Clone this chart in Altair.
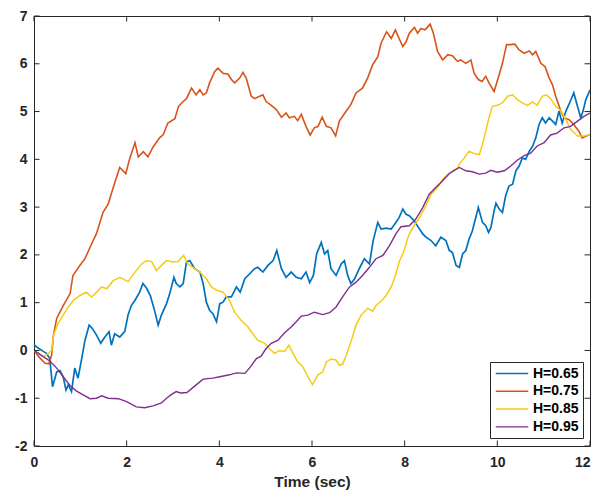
import altair as alt
import pandas as pd

SERIES = ["H=0.65", "H=0.75", "H=0.85", "H=0.95"]
COLORS = ["#0072BD", "#D95319", "#F5CC14", "#7E2F8E"]
X_TICKS = [0, 2, 4, 6, 8, 10, 12]
Y_TICKS = [-2, -1, 0, 1, 2, 3, 4, 5, 6, 7]

H065 = [(0, 0.12), (0.09, 0.05), (0.2, -0.02), (0.27, -0.06), (0.34, -0.17), (0.40, -0.76), (0.49, -0.45),
        (0.56, -0.42), (0.63, -0.55), (0.69, -0.83), (0.74, -0.72), (0.81, -0.86), (0.88, -0.37), (0.95, -0.58),
        (1.03, -0.17), (1.10, 0.21), (1.19, 0.53), (1.26, 0.46), (1.35, 0.32), (1.44, 0.15), (1.53, 0.28),
        (1.62, 0.39), (1.67, 0.11), (1.74, 0.35), (1.85, 0.28), (1.96, 0.40), (2.03, 0.74), (2.10, 0.94),
        (2.18, 1.05), (2.28, 1.22), (2.35, 1.40), (2.43, 1.30), (2.51, 1.15), (2.59, 0.88), (2.68, 0.53),
        (2.75, 0.74), (2.86, 0.98), (2.93, 1.19), (3.02, 1.53), (3.07, 1.40), (3.15, 1.33), (3.22, 1.40),
        (3.29, 1.85), (3.36, 1.88), (3.47, 1.71), (3.58, 1.64), (3.65, 1.40), (3.72, 1.01), (3.79, 0.84),
        (3.86, 0.77), (3.94, 0.60), (4.01, 0.98), (4.08, 1.01), (4.15, 1.12), (4.26, 1.12), (4.37, 1.33),
        (4.45, 1.22), (4.55, 1.50), (4.65, 1.60), (4.76, 1.71), (4.83, 1.74), (4.94, 1.64), (5.05, 1.78),
        (5.16, 1.88), (5.24, 2.09), (5.34, 1.71), (5.44, 1.53), (5.55, 1.64), (5.66, 1.53), (5.77, 1.50),
        (5.87, 1.64), (5.95, 1.42), (6.03, 1.57), (6.10, 2.02), (6.20, 2.26), (6.27, 2.02), (6.34, 2.09),
        (6.41, 1.71), (6.52, 1.57), (6.63, 1.81), (6.70, 1.88), (6.77, 1.57), (6.84, 1.40), (6.92, 1.50),
        (7.02, 1.71), (7.13, 1.92), (7.24, 1.81), (7.32, 2.30), (7.42, 2.68), (7.49, 2.54), (7.60, 2.56),
        (7.71, 2.54), (7.81, 2.68), (7.88, 2.78), (7.96, 2.96), (8.03, 2.85), (8.10, 2.82), (8.21, 2.71),
        (8.32, 2.54), (8.39, 2.44), (8.46, 2.37), (8.57, 2.30), (8.67, 2.19), (8.78, 2.37), (8.89, 2.30),
        (8.96, 2.10), (9.03, 2.05), (9.11, 1.78), (9.18, 1.74), (9.25, 2.02), (9.32, 2.09), (9.39, 2.33),
        (9.46, 2.50), (9.50, 2.65), (9.59, 2.99), (9.68, 2.68), (9.75, 2.61), (9.81, 2.47), (9.86, 2.57),
        (9.93, 2.92), (9.97, 3.08), (10.04, 2.96), (10.11, 2.89), (10.18, 3.24), (10.25, 3.44), (10.33, 3.48),
        (10.40, 3.76), (10.47, 3.86), (10.54, 4.03), (10.61, 4.00), (10.69, 4.17), (10.76, 4.27), (10.83, 4.45),
        (10.90, 4.73), (10.97, 4.87), (11.04, 4.76), (11.12, 4.87), (11.19, 4.80), (11.26, 4.73), (11.33, 5.01),
        (11.40, 4.76), (11.48, 5.01), (11.56, 5.18), (11.65, 5.39), (11.73, 5.11), (11.80, 4.87), (11.85, 5.01),
        (11.91, 5.25), (12.0, 5.45)]

H075 = [(0, 0), (0.12, -0.15), (0.24, -0.27), (0.32, -0.28), (0.38, -0.1), (0.42, 0.32), (0.49, 0.67),
        (0.63, 0.94), (0.78, 1.19), (0.84, 1.57), (0.99, 1.78), (1.10, 1.92), (1.21, 2.16), (1.35, 2.45),
        (1.49, 2.89), (1.60, 3.06), (1.71, 3.41), (1.85, 3.83), (1.98, 3.70), (2.07, 4.03), (2.18, 4.35),
        (2.25, 4.05), (2.36, 4.16), (2.46, 4.05), (2.57, 4.26), (2.71, 4.45), (2.79, 4.52), (2.89, 4.76),
        (3.04, 4.85), (3.12, 5.11), (3.21, 5.20), (3.29, 5.27), (3.40, 5.49), (3.50, 5.35), (3.58, 5.46),
        (3.65, 5.35), (3.72, 5.39), (3.79, 5.60), (3.90, 5.84), (3.97, 5.91), (4.08, 5.80), (4.19, 5.78),
        (4.26, 5.67), (4.33, 5.60), (4.44, 5.70), (4.51, 5.82), (4.58, 5.70), (4.69, 5.32), (4.76, 5.27),
        (4.87, 5.32), (4.94, 5.35), (5.01, 5.21), (5.12, 5.13), (5.23, 5.04), (5.34, 4.88), (5.44, 4.97),
        (5.51, 4.87), (5.62, 4.90), (5.69, 4.81), (5.77, 4.94), (5.87, 4.69), (5.96, 4.51), (6.05, 4.66),
        (6.13, 4.69), (6.22, 4.88), (6.31, 4.69), (6.41, 4.66), (6.51, 4.49), (6.59, 4.80), (6.74, 5.01),
        (6.84, 5.15), (6.95, 5.39), (7.09, 5.49), (7.20, 5.70), (7.31, 5.98), (7.42, 6.15), (7.49, 6.43),
        (7.61, 6.67), (7.71, 6.53), (7.80, 6.71), (7.88, 6.53), (7.96, 6.36), (8.03, 6.46), (8.10, 6.64),
        (8.21, 6.76), (8.28, 6.64), (8.35, 6.74), (8.44, 6.71), (8.55, 6.83), (8.62, 6.64), (8.71, 6.26),
        (8.82, 6.08), (8.93, 6.19), (9.03, 6.17), (9.14, 6.05), (9.21, 6.08), (9.32, 6.01), (9.43, 6.08),
        (9.50, 5.80), (9.59, 5.67), (9.67, 5.63), (9.75, 5.74), (9.82, 5.60), (9.93, 5.42), (10.04, 5.77),
        (10.11, 6.01), (10.20, 6.40), (10.29, 6.40), (10.38, 6.41), (10.47, 6.29), (10.58, 6.22), (10.69, 6.27),
        (10.76, 6.19), (10.83, 6.26), (10.94, 6.01), (11.03, 5.94), (11.12, 5.70), (11.19, 5.56), (11.26, 5.32),
        (11.37, 5.01), (11.44, 4.87), (11.55, 4.83), (11.65, 4.73), (11.76, 4.59), (11.83, 4.45), (11.92, 4.49),
        (12.0, 4.52)]

H085 = [(0, 0), (0.2, -0.13), (0.31, -0.06), (0.38, 0.0), (0.43, 0.35), (0.52, 0.56), (0.63, 0.74),
        (0.74, 0.91), (0.85, 1.05), (0.99, 1.15), (1.13, 1.22), (1.24, 1.12), (1.35, 1.22), (1.46, 1.33),
        (1.57, 1.29), (1.71, 1.46), (1.85, 1.53), (2.03, 1.44), (2.18, 1.64), (2.32, 1.81), (2.43, 1.88),
        (2.54, 1.86), (2.64, 1.67), (2.75, 1.78), (2.86, 1.88), (3.0, 1.85), (3.11, 1.86), (3.23, 1.99),
        (3.32, 1.81), (3.43, 1.74), (3.58, 1.64), (3.72, 1.50), (3.83, 1.33), (3.94, 1.26), (4.08, 1.22),
        (4.22, 1.05), (4.33, 0.80), (4.47, 0.63), (4.62, 0.49), (4.72, 0.35), (4.83, 0.21), (4.98, 0.15),
        (5.08, 0.04), (5.19, -0.06), (5.30, 0.0), (5.41, -0.02), (5.50, 0.11), (5.59, -0.06), (5.69, -0.24),
        (5.80, -0.34), (5.91, -0.55), (6.01, -0.72), (6.13, -0.51), (6.23, -0.45), (6.31, -0.24), (6.41, -0.18),
        (6.52, -0.20), (6.59, -0.31), (6.66, -0.29), (6.74, -0.10), (6.84, 0.18), (6.95, 0.53), (7.06, 0.74),
        (7.20, 0.88), (7.31, 0.82), (7.38, 0.94), (7.49, 1.03), (7.60, 1.15), (7.71, 1.33), (7.80, 1.57),
        (7.88, 1.85), (7.99, 2.09), (8.06, 2.33), (8.10, 2.44), (8.21, 2.62), (8.32, 2.78), (8.46, 3.03),
        (8.57, 3.27), (8.71, 3.41), (8.85, 3.62), (9.0, 3.74), (9.14, 3.81), (9.18, 3.90), (9.29, 4.03),
        (9.39, 4.17), (9.50, 4.12), (9.61, 4.10), (9.68, 4.31), (9.75, 4.59), (9.82, 4.87), (9.89, 5.11),
        (10.0, 5.13), (10.11, 5.18), (10.22, 5.32), (10.33, 5.35), (10.43, 5.25), (10.54, 5.18), (10.65, 5.13),
        (10.76, 5.20), (10.86, 5.13), (10.97, 5.32), (11.06, 5.35), (11.15, 5.27), (11.26, 5.11), (11.37, 5.02),
        (11.48, 4.83), (11.58, 4.63), (11.73, 4.49), (11.87, 4.49), (12.0, 4.52)]

H095 = [(0, 0), (0.2, -0.13), (0.34, -0.22), (0.49, -0.37), (0.63, -0.55), (0.78, -0.74), (0.92, -0.85),
        (1.06, -0.93), (1.21, -1.01), (1.35, -1.0), (1.46, -0.95), (1.60, -1.0), (1.82, -1.01), (2.0, -1.07),
        (2.21, -1.18), (2.39, -1.20), (2.57, -1.16), (2.75, -1.10), (2.86, -1.0), (2.97, -0.92), (3.07, -0.86),
        (3.16, -0.89), (3.30, -0.88), (3.50, -0.72), (3.65, -0.60), (3.86, -0.58), (4.01, -0.55), (4.22, -0.51),
        (4.37, -0.47), (4.55, -0.48), (4.65, -0.37), (4.80, -0.17), (4.90, -0.12), (5.01, 0.04), (5.12, 0.15),
        (5.26, 0.21), (5.41, 0.37), (5.55, 0.49), (5.66, 0.60), (5.77, 0.72), (5.91, 0.74), (6.05, 0.80),
        (6.16, 0.77), (6.23, 0.75), (6.38, 0.79), (6.52, 0.91), (6.66, 1.12), (6.81, 1.33), (6.95, 1.43),
        (7.09, 1.57), (7.24, 1.74), (7.38, 1.92), (7.53, 1.99), (7.67, 2.19), (7.81, 2.44), (7.92, 2.59),
        (8.10, 2.61), (8.24, 2.75), (8.39, 2.99), (8.53, 3.27), (8.67, 3.41), (8.82, 3.55), (8.96, 3.70),
        (9.07, 3.77), (9.18, 3.83), (9.32, 3.76), (9.46, 3.74), (9.61, 3.69), (9.75, 3.71), (9.86, 3.77),
        (10.0, 3.73), (10.15, 3.76), (10.29, 3.86), (10.43, 3.98), (10.58, 4.08), (10.72, 4.13), (10.86, 4.28),
        (11.01, 4.35), (11.15, 4.51), (11.29, 4.55), (11.44, 4.66), (11.58, 4.69), (11.73, 4.80), (11.87, 4.90),
        (12.0, 4.97)]

rows = []
for order, (name, pts) in enumerate(zip(SERIES, [H065, H075, H085, H095])):
    for t, v in pts:
        rows.append({"series": name, "order": order, "t": t, "v": v})
df = pd.DataFrame(rows)

FONT = "Liberation Sans"
AX = "#262626"
W, H = 556, 430
xs = alt.Scale(domain=[0, 12], nice=False, zero=False)
ys = alt.Scale(domain=[-2, 7], nice=False, zero=False)

lines = alt.Chart(df).mark_line(clip=True).encode(
    x=alt.X("t:Q", scale=xs, title="Time (sec)",
            axis=alt.Axis(values=X_TICKS, grid=False, ticks=False, domain=False, labelFlush=False,
                          labelAlign={"condition": {"test": "datum.value == 12", "value": "right"},
                                      "value": "center"},
                          labelFont=FONT, labelFontSize=14, labelFontWeight="bold", labelColor=AX,
                          labelPadding=9, titleFont=FONT, titleFontSize=15.5, titleFontWeight="bold",
                          titleColor=AX, titlePadding=5)),
    y=alt.Y("v:Q", scale=ys, title=None,
            axis=alt.Axis(values=Y_TICKS, grid=False, ticks=False, domain=False,
                          labelFont=FONT, labelFontSize=14, labelFontWeight="bold", labelColor=AX,
                          labelPadding=7, labelExpr="datum.value + ''")),
    color=alt.Color("series:N", scale=alt.Scale(domain=SERIES, range=COLORS),
                    legend=alt.Legend(orient="none", legendX=456, legendY=346, title=None,
                                      symbolType="M-2.5,0H2.5", symbolSize=169, symbolStrokeWidth=1.5,
                                      symbolOffset=10.5, labelOffset=13.5,
                                      labelFont=FONT, labelFontSize=14, labelFontWeight="bold",
                                      labelColor="black", strokeColor=AX, fillColor="white",
                                      padding=4, rowPadding=2.8)),
    strokeWidth=alt.StrokeWidth("series:N", scale=alt.Scale(domain=SERIES, range=[1.7, 1.4, 1.3, 1.2]),
                                legend=None),
    order="order:Q",
)

xt = pd.DataFrame({"t": X_TICKS})
yt = pd.DataFrame({"v": Y_TICKS})
tick_bottom = alt.Chart(xt).mark_rule(color=AX, strokeWidth=1).encode(
    x=alt.X("t:Q", scale=xs), y=alt.value(H), y2=alt.value(H - 5.5))
tick_top = alt.Chart(xt).mark_rule(color=AX, strokeWidth=1).encode(
    x=alt.X("t:Q", scale=xs), y=alt.value(0), y2=alt.value(5.5))
tick_left = alt.Chart(yt).mark_rule(color=AX, strokeWidth=1).encode(
    y=alt.Y("v:Q", scale=ys), x=alt.value(0), x2=alt.value(5.5))
tick_right = alt.Chart(yt).mark_rule(color=AX, strokeWidth=1).encode(
    y=alt.Y("v:Q", scale=ys), x=alt.value(W), x2=alt.value(W - 5.5))

chart = alt.layer(lines, tick_bottom, tick_top, tick_left, tick_right).properties(
    width=W, height=H,
    padding={"left": 26, "top": 8, "right": 1, "bottom": 44},
    autosize=alt.AutoSizeParams(type="none"),
    background="white",
).configure_view(stroke=AX, strokeWidth=1)

chart.save("out.html", embed_options={"renderer": "svg", "actions": False})
